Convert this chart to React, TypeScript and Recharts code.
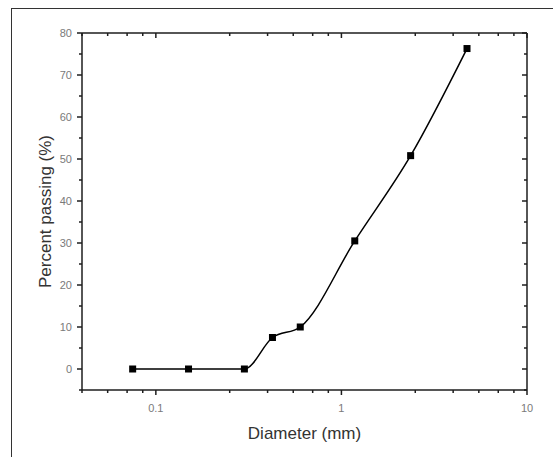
import React from 'react';
import { ComposedChart, Line, XAxis, YAxis } from 'recharts';

// sieve sizes (mm) and percent passing
const diameters = [0.075, 0.15, 0.3, 0.425, 0.6, 1.18, 2.36, 4.75];
const passing = [0, 0, 0, 7.5, 10, 30.5, 50.8, 76.3];

const xTicks = [0.04, 0.055, 0.07, 0.085, 0.1, 0.25, 0.4, 0.55, 0.7, 0.85, 1, 2.5, 4, 5.5, 7, 8.5, 10];
const xLabels = [0.1, 1, 10];
const yTicks = [-5, 0, 5, 10, 15, 20, 25, 30, 35, 40, 45, 50, 55, 60, 65, 70, 75, 80];
const yLabels = [0, 10, 20, 30, 40, 50, 60, 70, 80];

const data = diameters.map((d, i) => ({ d, p: passing[i] }));

const AXIS = '#1e1e1e';
const LABEL = '#7a7a7a';
const FONT = '"Liberation Sans", Arial, sans-serif';

function BottomTick(props: any) {
    const { x, y, payload } = props;
    const major = xLabels.includes(payload.value);
    return (
        <g>
            <line x1={x} y1={y} x2={x} y2={y + (major ? 5 : 3)} stroke={AXIS} strokeWidth={1.5} />
            {major && (
                <text x={x} y={y + 22} textAnchor="middle" fill={LABEL} fontSize={11} fontFamily={FONT}>
                    {payload.value}
                </text>
            )}
        </g>
    );
}

function TopTick(props: any) {
    const { x, y, payload } = props;
    const major = xLabels.includes(payload.value);
    return <line x1={x} y1={y} x2={x} y2={y + (major ? 5 : 3)} stroke={AXIS} strokeWidth={1.5} />;
}

function LeftTick(props: any) {
    const { x, y, payload } = props;
    const major = yLabels.includes(payload.value);
    return (
        <g>
            <line x1={x} y1={y} x2={x - (major ? 5 : 3)} y2={y} stroke={AXIS} strokeWidth={1.5} />
            {major && (
                <text x={x - 10} y={y + 4} textAnchor="end" fill={LABEL} fontSize={11} fontFamily={FONT}>
                    {payload.value}
                </text>
            )}
        </g>
    );
}

function RightTick(props: any) {
    const { x, y, payload } = props;
    const major = yLabels.includes(payload.value);
    return <line x1={x} y1={y} x2={x - (major ? 5 : 3)} y2={y} stroke={AXIS} strokeWidth={1.5} />;
}

function SquareDot(props: any) {
    const { cx, cy } = props;
    if (cx == null || cy == null) return null;
    return <rect x={cx - 3.5} y={cy - 3.5} width={7} height={7} fill="#000" />;
}

export default function App() {
    return (
        <div style={{ position: 'absolute', left: 0, top: 0, width: 553, height: 457, background: '#fff', overflow: 'hidden' }}>
            <div
                style={{
                    position: 'absolute',
                    left: 11,
                    top: 8,
                    width: 542,
                    height: 449,
                    borderTop: '1px solid #333',
                    borderLeft: '1px solid #333',
                }}
            />
            <div style={{ position: 'absolute', left: 0, top: 0 }}>
                <ComposedChart width={553} height={457} data={data} margin={{ top: 32, right: 25, bottom: 37, left: 42 }}>
                    <XAxis
                        dataKey="d"
                        type="number"
                        scale="log"
                        domain={[0.04, 10]}
                        allowDataOverflow
                        ticks={xTicks}
                        interval={0}
                        tickSize={0}
                        tickMargin={0}
                        tick={<BottomTick />}
                        height={30}
                        axisLine={{ stroke: AXIS, strokeWidth: 1.5 }}
                        label={{ value: 'Diameter (mm)', position: 'center', dy: 28, fill: '#333', fontSize: 17, fontFamily: FONT }}
                    />
                    <XAxis
                        xAxisId="top"
                        orientation="top"
                        dataKey="d"
                        type="number"
                        scale="log"
                        domain={[0.04, 10]}
                        allowDataOverflow
                        ticks={xTicks}
                        interval={0}
                        tickSize={0}
                        tickMargin={0}
                        tick={<TopTick />}
                        height={1}
                        axisLine={{ stroke: AXIS, strokeWidth: 1.5 }}
                    />
                    <YAxis
                        type="number"
                        domain={[-5, 80]}
                        allowDataOverflow
                        ticks={yTicks}
                        interval={0}
                        tickSize={0}
                        tickMargin={0}
                        tick={<LeftTick />}
                        width={40}
                        axisLine={{ stroke: AXIS, strokeWidth: 1.5 }}
                        label={{ value: 'Percent passing (%)', angle: -90, position: 'center', dx: -17, fill: '#333', fontSize: 17, fontFamily: FONT }}
                    />
                    <YAxis
                        yAxisId="right"
                        orientation="right"
                        type="number"
                        domain={[-5, 80]}
                        allowDataOverflow
                        ticks={yTicks}
                        interval={0}
                        tickSize={0}
                        tickMargin={0}
                        tick={<RightTick />}
                        width={1}
                        axisLine={{ stroke: AXIS, strokeWidth: 1.5 }}
                    />
                    <Line
                        type="monotone"
                        dataKey="p"
                        stroke="#000"
                        strokeWidth={1.5}
                        dot={<SquareDot />}
                        activeDot={false}
                        isAnimationActive={false}
                    />
                </ComposedChart>
            </div>
        </div>
    );
}
